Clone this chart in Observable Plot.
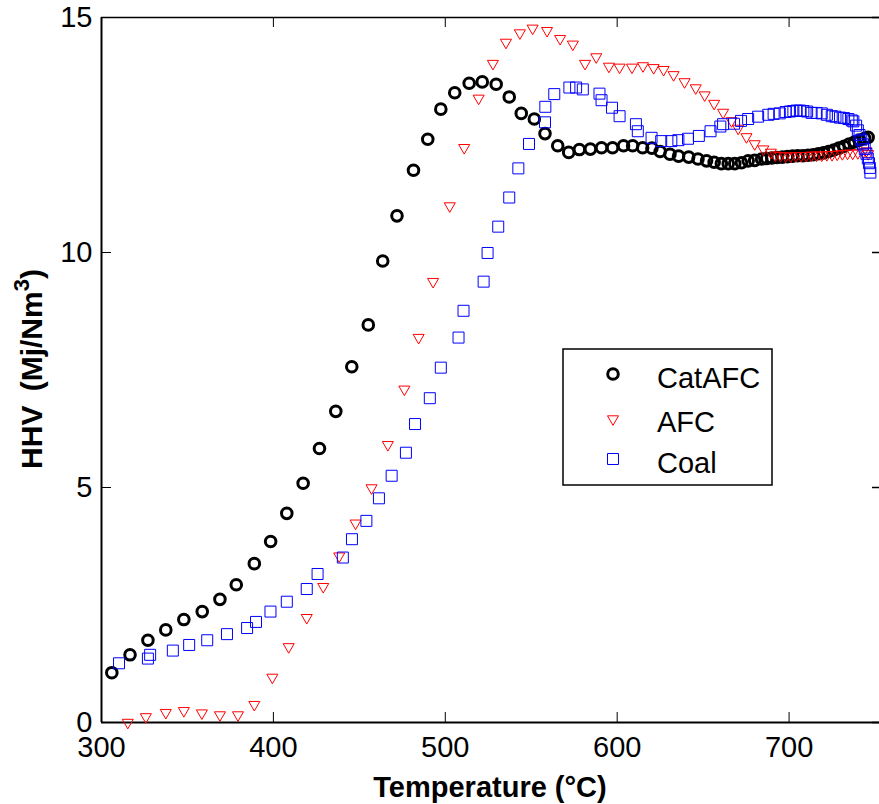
<!DOCTYPE html>
<html><head><meta charset="utf-8">
<script src="https://cdn.jsdelivr.net/npm/d3@7"></script>
<script src="https://cdn.jsdelivr.net/npm/@observablehq/plot@0.6"></script>
<style>body{margin:0;background:#fff} #chart svg{display:block}</style>
</head><body><div id="chart"></div>
<script>
const xTicks = [300, 400, 500, 600, 700];
const yTicks = [0, 5, 10, 15];
const xLabel = "Temperature (°C)";
const yLabelMain = "HHV (Mj/Nm";
const yLabelSup = "3";
const seriesNames = ["CatAFC", "AFC", "Coal"];

const catAFC_T = [306,316.6,327,337.4,347.9,358.6,368.9,378.4,388.9,398.4,407.8,417.3,426.8,436.3,445.6,455.2,463.6,471.9,481.5,489.8,497.4,505.5,513.9,521.5,529.6,537.2,544.2,551.8,558,565.4,571.8,578,584.4,590.9,597.3,603.7,609,614.8,620.2,625,630.7,635.7,641.6,647,652,656.4,660.6,664.6,668.4,672.3,676.2,680,684,687,690,693,696,699,702,705,708,711,714,717,720,723,726,729,732,735,738,741,744,746];
const catAFC_HHV = [1.06,1.44,1.75,1.97,2.19,2.36,2.62,2.93,3.38,3.85,4.45,5.09,5.83,6.62,7.57,8.46,9.82,10.78,11.75,12.41,13.05,13.4,13.6,13.63,13.58,13.31,12.96,12.84,12.53,12.27,12.13,12.19,12.2,12.23,12.23,12.27,12.27,12.23,12.22,12.15,12.09,12.05,12.03,11.99,11.95,11.92,11.89,11.89,11.89,11.91,11.95,11.96,11.99,12.0,12.01,12.02,12.03,12.04,12.05,12.06,12.06,12.07,12.08,12.1,12.12,12.15,12.18,12.22,12.26,12.31,12.35,12.39,12.43,12.45];

const afc_T = [315.3,325.8,337.4,347.9,358.4,368.9,379.4,388.9,399.4,408.9,419.4,429,438.3,447.8,457.1,466.6,476.2,484.5,492.9,502.6,511,519.4,527.7,535.3,543.4,550.8,559.2,566.8,574.2,581.3,587.8,595.2,601.4,608.6,615,621.2,627,632.8,639.2,645.7,650.9,656.4,661.6,666.5,670.4,675.2,680,685,689.4,692,695,698,701,704,707,710,713,716,719,722,725,728,731,734,737,740,743,745,746];
const afc_HHV = [0.0,0.12,0.21,0.25,0.2,0.16,0.16,0.38,0.96,1.61,2.23,2.89,3.54,4.24,4.99,5.91,7.09,8.19,9.38,10.99,12.23,13.28,14.02,14.47,14.67,14.77,14.72,14.55,14.43,14.02,14.16,13.96,13.94,13.94,13.97,13.93,13.89,13.78,13.63,13.5,13.35,13.17,12.98,12.8,12.64,12.46,12.31,12.2,12.13,12.07,12.06,12.05,12.05,12.06,12.06,12.06,12.07,12.07,12.07,12.08,12.08,12.09,12.1,12.11,12.11,12.12,12.14,12.16,12.1];

const coal_T = [310.2,327,328.3,341.5,351,361.5,373,384.7,389.9,398.3,407.8,419.4,425.7,440.4,445.7,454.1,461.4,468.8,477.1,482.4,491,497.4,507.7,510.6,522.3,524.6,530.8,537.2,542.5,548.7,558,558.2,563.4,572.2,576.1,580,589.7,590.9,597,601.4,610.9,612,620,625.6,631.5,635.6,641.2,647.5,654.3,660,661.6,668,672,676.2,682,687.9,691,694.6,698,700.5,702.5,704.4,706.3,708.3,710.5,713.1,716,719,722,724.8,727,729.6,732,734.5,736.5,737.4,739,740,741,742,743,744,745,745.8,746.5,747,747.3];
const coal_HHV = [1.26,1.36,1.44,1.53,1.65,1.75,1.88,2.01,2.14,2.36,2.57,2.84,3.16,3.51,3.9,4.29,4.77,5.25,5.74,6.35,6.9,7.55,8.19,8.76,9.38,9.99,10.55,11.17,11.79,12.31,12.77,13.1,13.37,13.51,13.51,13.47,13.38,13.24,13.08,12.9,12.73,12.58,12.44,12.37,12.37,12.39,12.42,12.48,12.58,12.68,12.73,12.74,12.8,12.84,12.89,12.93,12.95,12.96,12.99,13.0,13.01,13.02,13.02,13.01,13.0,12.97,12.97,12.96,12.93,12.9,12.89,12.87,12.86,12.84,12.81,12.79,12.7,12.6,12.5,12.4,12.3,12.2,12.1,12.0,11.9,11.8,11.7];

const toRows = (T, V) => T.map((t, i) => ({T: t, v: V[i]}));
const catRows = toRows(catAFC_T, catAFC_HHV);
const afcRows = toRows(afc_T, afc_HHV);
const coalRows = toRows(coal_T, coal_HHV);

const font = "'Liberation Sans', Arial, Helvetica, sans-serif";
const W = 879, H = 804, ML = 101, MR = 0, MT = 17, MB = 82;
const plotW = W - ML - MR, plotH = H - MT - MB;
const tickLen = 10, rightTickLen = 7;

const plot = Plot.plot({
  width: W, height: H,
  marginLeft: ML, marginRight: MR, marginTop: MT, marginBottom: MB,
  style: {fontFamily: font, fontSize: "29px", color: "#000", background: "#fff", overflow: "visible"},
  x: {domain: [300, 752.6], label: null},
  y: {domain: [0, 15], label: null},
  marks: [
    Plot.axisX({anchor: "bottom", ticks: xTicks, tickSize: 0, tickPadding: 14, label: null, fontSize: 29}),
    Plot.axisY({anchor: "left", ticks: yTicks, tickSize: 0, tickPadding: 9, label: null, fontSize: 29}),
    // inward tick marks
    Plot.ruleX(xTicks, {x: d => d, stroke: "#000", strokeWidth: 1, insetTop: plotH - tickLen}),
    Plot.ruleX(xTicks, {x: d => d, stroke: "#000", strokeWidth: 1, insetBottom: plotH - tickLen}),
    Plot.ruleY(yTicks, {y: d => d, stroke: "#000", strokeWidth: 1, insetRight: plotW - tickLen}),
    Plot.ruleY(yTicks, {y: d => d, stroke: "#000", strokeWidth: 1.5, insetLeft: plotW - rightTickLen}),
    // frame
    Plot.ruleX([300], {stroke: "#000", strokeWidth: 2}),
    Plot.ruleY([0], {stroke: "#000", strokeWidth: 2}),
    Plot.ruleY([15], {stroke: "#000", strokeWidth: 1.5}),
    // data
    Plot.dot(catRows, {x: "T", y: "v", r: 5.3, fill: "none", stroke: "#000", strokeWidth: 3}),
    Plot.dot(afcRows, {x: "T", y: "v", symbol: "triangle", r: 4.1, rotate: 180, fill: "none", stroke: "#ff0000", strokeWidth: 1}),
    Plot.dot(coalRows, {x: "T", y: "v", symbol: "square", r: 6.2, fill: "none", stroke: "#0000ff", strokeWidth: 1})
  ]
});

const svg = d3.select(plot);
// x axis title
svg.append("text")
  .attr("x", 490).attr("y", 797)
  .attr("text-anchor", "middle")
  .attr("font-family", font).attr("font-weight", "bold").attr("font-size", 29)
  .attr("fill", "#000")
  .text(xLabel);
// y axis title with superscript
const yt = svg.append("text")
  .attr("transform", "translate(42,369) rotate(-90)")
  .attr("text-anchor", "middle")
  .attr("font-family", font).attr("font-weight", "bold").attr("font-size", 30)
  .attr("word-spacing", 6)
  .attr("fill", "#000");
yt.append("tspan").text(yLabelMain);
yt.append("tspan").attr("font-size", 22).attr("dy", -13).text(yLabelSup);
yt.append("tspan").attr("font-size", 30).attr("dy", 13).text(")");

// legend
const lg = svg.append("g").attr("font-family", font).attr("font-size", 29).attr("text-anchor", "start");
lg.append("rect").attr("x", 563).attr("y", 349).attr("width", 209).attr("height", 136)
  .attr("fill", "#fff").attr("stroke", "#000").attr("stroke-width", 1.5);
const legendItems = [
  {name: seriesNames[0], y: 374, base: 388, sym: d3.symbolCircle, size: Math.PI * 5.3 * 5.3, stroke: "#000", sw: 3, rot: 0},
  {name: seriesNames[1], y: 419, base: 432, sym: d3.symbolTriangle, size: Math.PI * 4.1 * 4.1, stroke: "#ff0000", sw: 1, rot: 180},
  {name: seriesNames[2], y: 459, base: 473, sym: d3.symbolSquare, size: Math.PI * 6.2 * 6.2, stroke: "#0000ff", sw: 1, rot: 0}
];
for (const it of legendItems) {
  lg.append("path").attr("d", d3.symbol(it.sym, it.size)())
    .attr("transform", `translate(613,${it.y}) rotate(${it.rot})`)
    .attr("fill", "none").attr("stroke", it.stroke).attr("stroke-width", it.sw);
  lg.append("text").attr("x", 657).attr("y", it.base).attr("text-anchor", "start").attr("fill", "#000").text(it.name);
}

document.getElementById("chart").appendChild(plot);
</script>
</body></html>
